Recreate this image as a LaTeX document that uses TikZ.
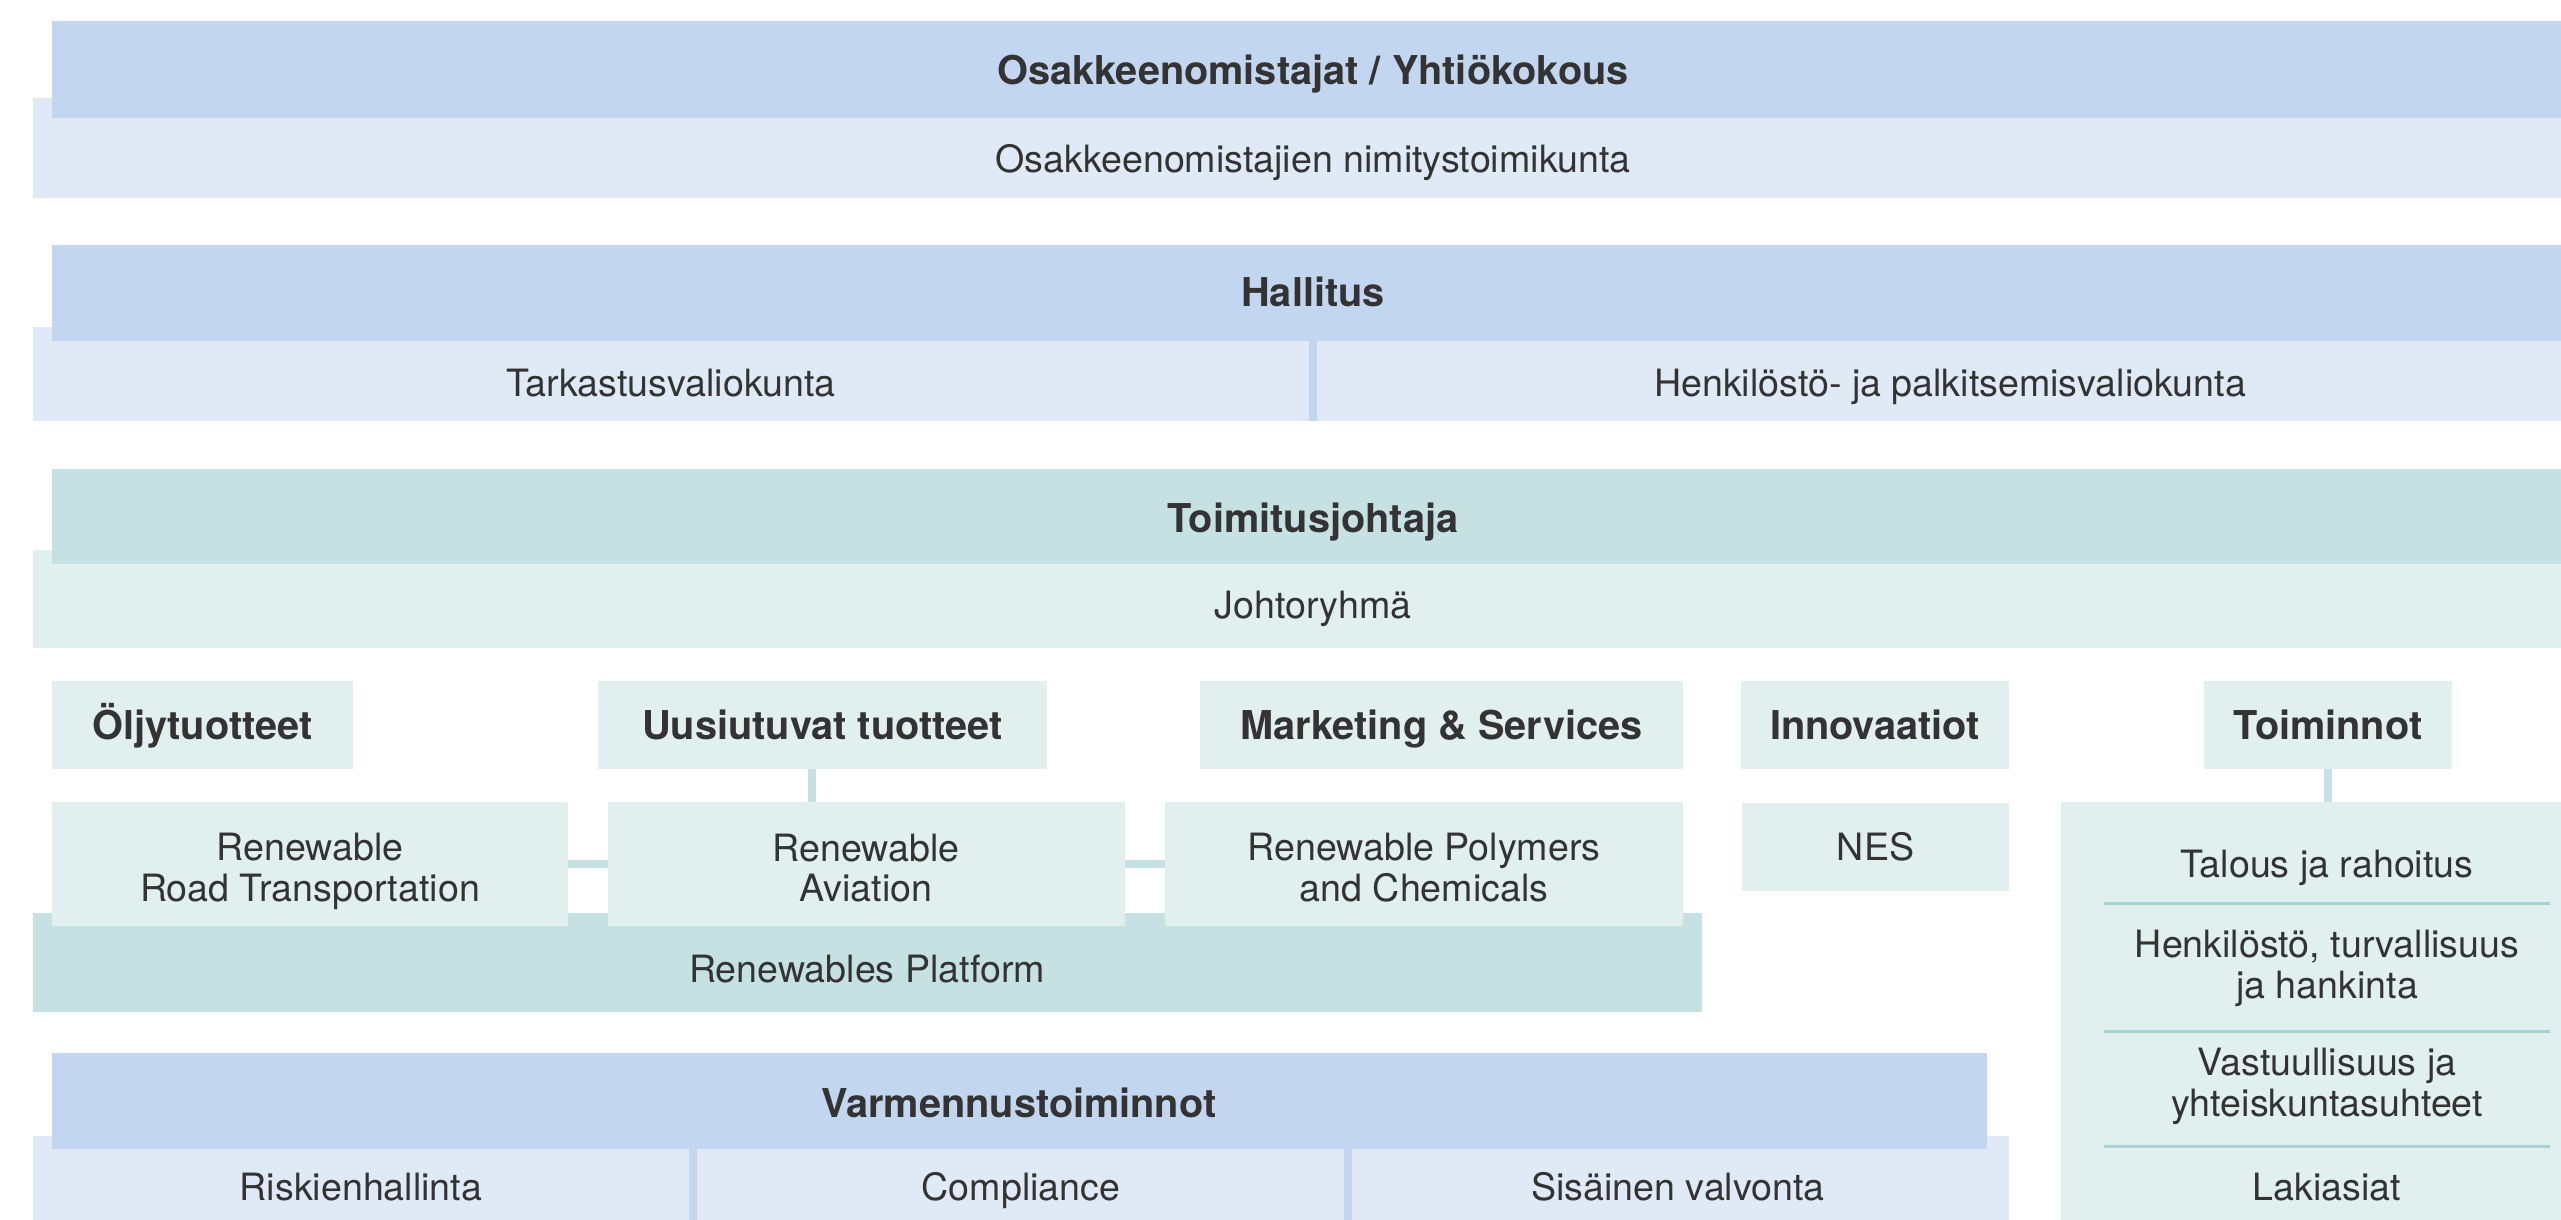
\documentclass[tikz,border=0pt]{standalone}
\usepackage{fontspec}
\setmainfont{TeX Gyre Heros}
\definecolor{bdark}{HTML}{C2D6F0}
\definecolor{blight}{HTML}{E0EAF6}
\definecolor{tdark}{HTML}{C6E1E2}
\definecolor{tlight}{HTML}{E1EFEF}
\definecolor{tsep}{HTML}{A5D2D2}
\definecolor{txtc}{HTML}{333333}
\begin{document}
\begin{tikzpicture}[x=0.1mm,y=-0.1mm,
  rect/.style n args={4}{anchor=center, inner sep=0pt, outer sep=0pt,
     minimum width={(#3-#1)*0.1mm}, minimum height={(#4-#2)*0.1mm},
     at={({(#1+#3)/2},{(#2+#4)/2})}},
  base/.style={text=txtc, align=center, font=\fontsize{10.7}{11.6}\selectfont},
  bold/.style={base, font=\fontsize{11.3}{11.6}\selectfont\bfseries},
  onereg/.style={text height=7.7pt, text depth=0pt},
  onebold/.style={text height=8.1pt, text depth=0pt},
  dblue/.style={fill=bdark, draw=none},
  lblue/.style={fill=blight, draw=none},
  dteal/.style={fill=tdark, draw=none},
  lteal/.style={fill=tlight, draw=none, base},
  hdr/.style={fill=tlight, draw=none, bold, onebold},
  tlabel/.style={base, inner sep=0pt},
  tone/.style={tlabel, onereg},
  tbold/.style={bold, onebold, inner sep=0pt},
  bdiv/.style={draw=bdark, line width=0.8mm},
  conn/.style={draw=tdark, line width=0.75mm},
  sepline/.style={draw=tsep, line width=0.3mm}]
\useasboundingbox[fill=white] (0,0) rectangle (2561,1220);

% Row 1
\node[lblue, rect={33}{98}{2561}{198}] (nimband) {};
\node[dblue, rect={52}{21}{2561}{118}] (ykband) {};
\node[tbold] (yk) at (1313,70) {Osakkeenomistajat / Yhtiökokous};
\node[tone] (nimi) at (1313,159) {Osakkeenomistajien nimitystoimikunta};

% Row 2
\node[lblue, rect={33}{327}{2561}{421}] (hallband) {};
\node[dblue, rect={52}{245}{2561}{341}] (hallbox) {};
\node[tbold] (hall) at (1313,292) {Hallitus};
\node[tone] (tark) at (671,383) {Tarkastusvaliokunta};
\node[tone] (henk) at (1950,383) {Henkilöstö- ja palkitsemisvaliokunta};
\coordinate (d1a) at (1313,341);
\coordinate (d1b) at (1313,421);
\draw[bdiv] (d1a) -- (d1b);

% Row 3
\node[lteal, rect={33}{550}{2561}{648}] (johtband) {};
\node[dteal, rect={52}{469}{2561}{564}] (tjbox) {};
\node[tbold] (tj) at (1313,518) {Toimitusjohtaja};
\node[tone] (johto) at (1313,605) {Johtoryhmä};

% Row 4 headers
\node[hdr, rect={52}{681}{353}{769}] (oljy) {Öljytuotteet};
\node[hdr, rect={598}{681}{1047}{769}] (uusi) {Uusiutuvat tuotteet};
\node[hdr, rect={1200}{681}{1683}{769}] (mark) {Marketing \& Services};
\node[hdr, rect={1741}{681}{2009}{769}] (innov) {Innovaatiot};
\node[hdr, rect={2204}{681}{2452}{769}] (toim) {Toiminnot};

% Renewables platform
\node[dteal, rect={33}{913}{1702}{1012}] (plat) {};
\node[tone] (platt) at (867,969) {Renewables Platform};

% Row 5
\node[lteal, rect={52}{802}{568}{926}] (rrt) {};
\node[lteal, rect={608}{802}{1125}{926}] (ra) {};
\node[lteal, rect={1165}{802}{1683}{926}] (rpc) {};
\node[tlabel] (rrtt) at (310,871) {Renewable\\Road Transportation};
\node[tlabel] (rat) at (866,868) {Renewable\\Aviation};
\node[tlabel] (rpct) at (1424,868) {Renewable Polymers\\and Chemicals};
\node[lteal, onereg, rect={1742}{803}{2009}{891}] (nes) {NES};

\draw[conn] (rrt.east) -- (ra.west);
\draw[conn] (ra.east) -- (rpc.west);
\draw[conn] ([xshift=-3]uusi.south) -- ([xshift=-3]uusi.south |- ra.north);

% Toiminnot list
\node[lteal, rect={2061}{802}{2561}{1220}] (tbox) {};
\draw[conn] (toim.south) -- (toim.south |- tbox.north);
\node[tone] (talous) at (2327,864) {Talous ja rahoitus};
\node[tlabel] (hr) at (2327,968) {Henkilöstö, turvallisuus\\ja hankinta};
\node[tlabel] (vast) at (2327,1086) {Vastuullisuus ja\\yhteiskuntasuhteet};
\node[tone] (laki) at (2327,1187) {Lakiasiat};
\coordinate (s1a) at (2104,903); \coordinate (s1b) at (2550,903);
\coordinate (s2a) at (2104,1031); \coordinate (s2b) at (2550,1031);
\coordinate (s3a) at (2104,1146); \coordinate (s3b) at (2550,1146);
\draw[sepline] (s1a) -- (s1b);
\draw[sepline] (s2a) -- (s2b);
\draw[sepline] (s3a) -- (s3b);

% Row 6
\node[lblue, rect={33}{1136}{2009}{1220}] (varmband) {};
\node[dblue, rect={52}{1053}{1987}{1149}] (varmbox) {};
\node[tbold] (varm) at (1019,1103) {Varmennustoiminnot};
\node[tone] (risk) at (361,1187) {Riskienhallinta};
\node[tone] (comp) at (1021,1187) {Compliance};
\node[tone] (sis) at (1678,1187) {Sisäinen valvonta};
\coordinate (d2a) at (693,1149); \coordinate (d2b) at (693,1220);
\coordinate (d3a) at (1348,1149); \coordinate (d3b) at (1348,1220);
\draw[bdiv] (d2a) -- (d2b);
\draw[bdiv] (d3a) -- (d3b);
\end{tikzpicture}
\end{document}
